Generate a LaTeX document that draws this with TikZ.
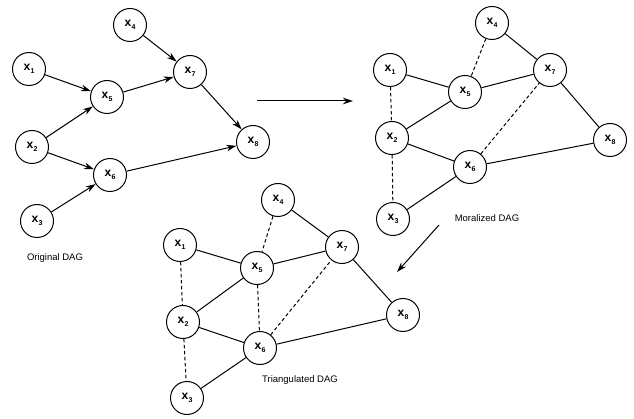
\documentclass[tikz,border=0pt]{standalone}
\usepackage{fontspec}
\setmainfont{Liberation Sans}
\usetikzlibrary{arrows.meta}
\newcommand{\xlab}[1]{\fontsize{12}{12}\selectfont\bfseries x\kern0.3pt\raisebox{-2.4pt}{\fontsize{7}{7}\selectfont #1}}
\tikzset{
  vnode/.style={circle, draw, line width=1pt, minimum size=33pt, inner sep=0pt},
  arr/.style={line width=1pt, -{Stealth[length=10pt,width=6.5pt]}},
  und/.style={line width=1pt},
  dsh/.style={line width=1pt, dash pattern=on 3.5pt off 2.5pt},
  lbl/.style={font=\fontsize{9.5}{9.5}\selectfont}
}
\begin{document}
\begin{tikzpicture}[x=1pt,y=-1pt]
\useasboundingbox (0,0) rectangle (634,419);
% Original DAG
\node[vnode] (o1) at (29,69) {\xlab{1}};
\node[vnode] (o2) at (32,147) {\xlab{2}};
\node[vnode] (o3) at (37,221) {\xlab{3}};
\node[vnode] (o4) at (130,25) {\xlab{4}};
\node[vnode] (o5) at (107,97) {\xlab{5}};
\node[vnode] (o6) at (110,175) {\xlab{6}};
\node[vnode] (o7) at (190,72) {\xlab{7}};
\node[vnode] (o8) at (253,142) {\xlab{8}};
\draw[arr] (o1) -- (o5);
\draw[arr] (o2) -- (o5);
\draw[arr] (o2) -- (o6);
\draw[arr] (o3) -- (o6);
\draw[arr] (o4) -- (o7);
\draw[arr] (o5) -- (o7);
\draw[arr] (o7) -- (o8);
\draw[arr] (o6) -- (o8);
\node[lbl] (ol) at (55,258) {Original DAG};
% arrow to moralized
\coordinate (a1s) at (257,101);
\coordinate (a1e) at (353,101);
\draw[arr] (a1s) -- (a1e);
% Moralized DAG
\node[vnode] (m1) at (390,70) {\xlab{1}};
\node[vnode] (m2) at (392,138) {\xlab{2}};
\node[vnode] (m3) at (393,219) {\xlab{3}};
\node[vnode] (m4) at (492,23) {\xlab{4}};
\node[vnode] (m5) at (465,92) {\xlab{5}};
\node[vnode] (m6) at (470,167) {\xlab{6}};
\node[vnode] (m7) at (550,70) {\xlab{7}};
\node[vnode] (m8) at (610,140) {\xlab{8}};
\draw[und] (m1) -- (m5);
\draw[und] (m2) -- (m5);
\draw[und] (m2) -- (m6);
\draw[und] (m3) -- (m6);
\draw[und] (m4) -- (m7);
\draw[und] (m5) -- (m7);
\draw[und] (m7) -- (m8);
\draw[und] (m6) -- (m8);
\draw[dsh] (m1) -- (m2);
\draw[dsh] (m2) -- (m3);
\draw[dsh] (m4) -- (m5);
\draw[dsh] (m6) -- (m7);
\node[lbl] (ml) at (487,218) {Moralized DAG};
% arrow to triangulated
\coordinate (a2s) at (439,225);
\coordinate (a2e) at (397,272);
\draw[arr] (a2s) -- (a2e);
% Triangulated DAG
\node[vnode] (t1) at (180,245) {\xlab{1}};
\node[vnode] (t2) at (183,322) {\xlab{2}};
\node[vnode] (t3) at (187,398) {\xlab{3}};
\node[vnode] (t4) at (278,200) {\xlab{4}};
\node[vnode] (t5) at (257,268) {\xlab{5}};
\node[vnode] (t6) at (260,348) {\xlab{6}};
\node[vnode] (t7) at (342,247) {\xlab{7}};
\node[vnode] (t8) at (403,315) {\xlab{8}};
\draw[und] (t1) -- (t5);
\draw[und] (t2) -- (t5);
\draw[und] (t2) -- (t6);
\draw[und] (t3) -- (t6);
\draw[und] (t4) -- (t7);
\draw[und] (t5) -- (t7);
\draw[und] (t7) -- (t8);
\draw[und] (t6) -- (t8);
\draw[dsh] (t1) -- (t2);
\draw[dsh] (t2) -- (t3);
\draw[dsh] (t4) -- (t5);
\draw[dsh] (t6) -- (t7);
\draw[dsh] (t5) -- (t6);
\node[lbl] (tl) at (300,380) {Triangulated DAG};
\end{tikzpicture}
\end{document}
